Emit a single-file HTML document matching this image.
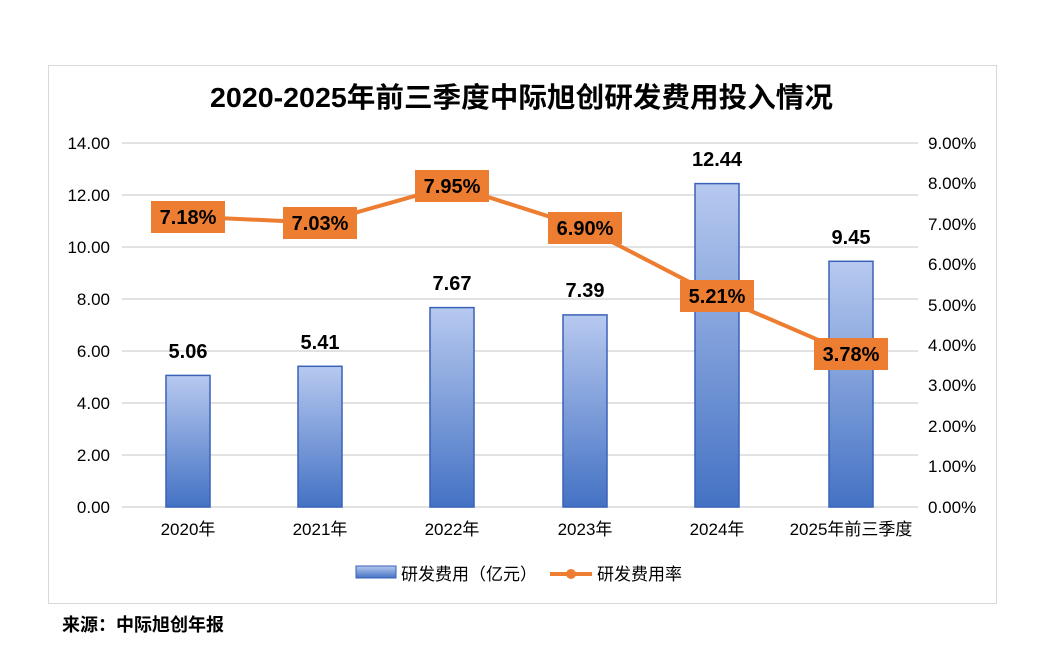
<!DOCTYPE html>
<html><head><meta charset="utf-8"><style>body{margin:0;background:#fff}svg{display:block}text{font-family:"Liberation Sans","Noto Sans CJK SC",sans-serif}</style></head><body>
<svg width="1049" height="657" viewBox="0 0 1049 657" xmlns="http://www.w3.org/2000/svg">
<defs><linearGradient id="g" x1="0" y1="0" x2="0" y2="1"><stop offset="0" stop-color="#b7c9ef"/><stop offset="1" stop-color="#4472c4"/></linearGradient></defs>
<rect x="48.5" y="65.5" width="948" height="538" fill="#fff" stroke="#d9d9d9"/>
<text x="210" y="107" font-size="28" font-weight="bold" fill="#000" textLength="623" lengthAdjust="spacingAndGlyphs">2020-2025年前三季度中际旭创研发费用投入情况</text>
<g stroke="#d9d9d9" stroke-width="1.5">
<line x1="122" x2="918" y1="143" y2="143"/><line x1="122" x2="918" y1="195" y2="195"/><line x1="122" x2="918" y1="247" y2="247"/><line x1="122" x2="918" y1="299" y2="299"/><line x1="122" x2="918" y1="351" y2="351"/><line x1="122" x2="918" y1="403" y2="403"/><line x1="122" x2="918" y1="455" y2="455"/><line x1="122" x2="918" y1="507" y2="507"/>
</g>
<g font-size="17" fill="#000" text-anchor="end">
<text x="110" y="149">14.00</text><text x="110" y="201">12.00</text><text x="110" y="253">10.00</text><text x="110" y="305">8.00</text><text x="110" y="357">6.00</text><text x="110" y="409">4.00</text><text x="110" y="461">2.00</text><text x="110" y="513">0.00</text>
</g>
<g font-size="17" fill="#000" text-anchor="start">
<text x="928" y="149">9.00%</text><text x="928" y="189">8.00%</text><text x="928" y="230">7.00%</text><text x="928" y="270">6.00%</text><text x="928" y="311">5.00%</text><text x="928" y="351">4.00%</text><text x="928" y="391">3.00%</text><text x="928" y="432">2.00%</text><text x="928" y="472">1.00%</text><text x="928" y="513">0.00%</text>
</g>
<g fill="url(#g)" stroke="#3a62b8" stroke-width="1.5">
<rect x="166" y="375.4" width="44" height="131.6"/>
<rect x="298" y="366.3" width="44" height="140.7"/>
<rect x="430" y="307.6" width="44" height="199.4"/>
<rect x="563" y="314.9" width="44" height="192.1"/>
<rect x="695" y="183.6" width="44" height="323.4"/>
<rect x="829" y="261.3" width="44" height="245.7"/>
</g>
<g font-size="20" font-weight="bold" fill="#000" text-anchor="middle">
<text x="188" y="358">5.06</text><text x="320" y="349">5.41</text><text x="452" y="290">7.67</text><text x="585" y="297">7.39</text><text x="717" y="166">12.44</text><text x="851" y="244">9.45</text>
</g>
<g font-size="17" fill="#000" text-anchor="middle">
<text x="188" y="535">2020年</text><text x="320" y="535">2021年</text><text x="452" y="535">2022年</text><text x="585" y="535">2023年</text><text x="717" y="535">2024年</text><text x="851" y="535">2025年前三季度</text>
</g>
<polyline points="188,216.6 320,222.7 452,185.5 585,228 717,296.3 851,354.1" fill="none" stroke="#ed7d31" stroke-width="4" stroke-linejoin="round"/>
<g fill="#ed7d31">
<rect x="151" y="201" width="74" height="32"/><rect x="283" y="207" width="74" height="32"/><rect x="415" y="170" width="74" height="32"/><rect x="548" y="212" width="74" height="32"/><rect x="680" y="280" width="74" height="32"/><rect x="814" y="338" width="74" height="32"/>
</g>
<g font-size="20" font-weight="bold" fill="#000" text-anchor="middle">
<text x="188" y="224">7.18%</text><text x="320" y="230">7.03%</text><text x="452" y="193">7.95%</text><text x="585" y="235">6.90%</text><text x="717" y="303">5.21%</text><text x="851" y="361">3.78%</text>
</g>
<rect x="356" y="566" width="40" height="12" fill="url(#g)" stroke="#3a62b8"/>
<text x="401" y="580" font-size="17" fill="#000">研发费用（亿元）</text>
<line x1="550" x2="592" y1="574" y2="574" stroke="#ed7d31" stroke-width="4"/>
<circle cx="571" cy="574" r="5" fill="#ed7d31"/>
<text x="597" y="580" font-size="17" fill="#000">研发费用率</text>
<text x="62" y="631" font-size="18" font-weight="bold" fill="#000">来源：中际旭创年报</text>
</svg>
</body></html>
